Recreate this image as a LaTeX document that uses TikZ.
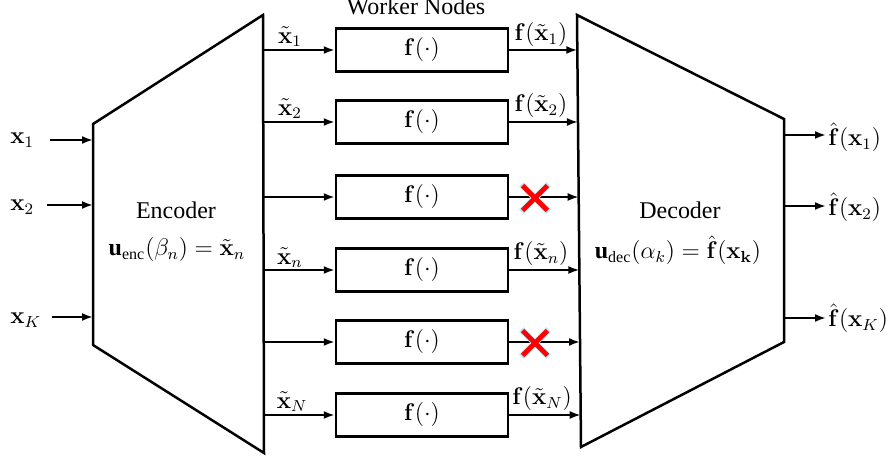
\documentclass[tikz,border=0pt]{standalone}
\usepackage{amsmath}
\usepackage[no-math]{fontspec}
\setmainfont{Liberation Serif}
\usetikzlibrary{arrows.meta,calc,shapes.misc}
\begin{document}
\begin{tikzpicture}[x=0.5pt,y=-0.5pt,
  font=\fontsize{12}{14}\selectfont,
  block/.style={draw,line width=1.25pt,line join=miter},
  worker/.style={draw,line width=1.25pt,minimum width=86pt,minimum height=21.5pt,inner sep=0pt},
  flow/.style={line width=1pt,-{Latex[length=5.5pt,width=4pt]}},
  lost/.style={cross out,draw=red,line width=2.4pt,minimum size=10pt,inner sep=0pt},
  halo/.style={cross out,draw=cyan!25,line width=3.2pt,minimum size=10.5pt,inner sep=0pt},
  lbl/.style={inner sep=1pt}]
\useasboundingbox (0,0) rectangle (891,459);

% encoder trapezoid
\coordinate (etl) at (93,124);
\coordinate (etr) at (263,15);
\coordinate (ebr) at (264,453);
\coordinate (ebl) at (93,345);
\draw[block] (etl) -- (etr) -- (ebr) -- (ebl) -- cycle;
\node (enc) at (176,210) {Encoder};
\node (encf) at (177,250) {$\text{\textbf{u}}_{\text{enc}}(\beta_n)=\tilde{\mathbf{x}}_n$};

% decoder trapezoid
\coordinate (dtl) at (577,15);
\coordinate (dtr) at (784,119);
\coordinate (dbr) at (784,342);
\coordinate (dbl) at (581,447);
\draw[block] (dtl) -- (dtr) -- (dbr) -- (dbl) -- cycle;
\node (dec) at (680,210) {Decoder};
\node (decf) at (678,250) {$\text{\textbf{u}}_{\text{dec}}(\alpha_k)=\hat{\mathbf{f}}(\mathbf{x}_{\mathbf{k}})$};

\node[anchor=base] (wn) at (416,15) {Worker Nodes};

% worker nodes and their links
\foreach \i/\y in {1/50,2/122,3/197,4/270,5/342,6/415} {
  \pgfmathsetmacro{\dx}{577+4*(\y-15)/432}
  \node[worker] (w\i) at (422,\y) {$\mathbf{f}(\cdot)$};
  \coordinate (e\i) at (263,\y);
  \coordinate (d\i) at (\dx,\y);
  \draw[flow] (e\i) -- (w\i);
  \draw[flow] (w\i) -- (d\i);
}

% link labels
\node[lbl] (t1) at (290,37) {$\tilde{\mathbf{x}}_1$};
\node[lbl] (t2) at (290,109) {$\tilde{\mathbf{x}}_2$};
\node[lbl] (tn) at (290,258) {$\tilde{\mathbf{x}}_n$};
\node[lbl] (tN) at (292,402) {$\tilde{\mathbf{x}}_N$};
\node[lbl] (f1) at (541,35) {$\mathbf{f}(\tilde{\mathbf{x}}_1)$};
\node[lbl] (f2) at (541,106) {$\mathbf{f}(\tilde{\mathbf{x}}_2)$};
\node[lbl] (fn) at (541,254) {$\mathbf{f}(\tilde{\mathbf{x}}_n)$};
\node[lbl] (fN) at (542,399) {$\mathbf{f}(\tilde{\mathbf{x}}_N)$};

% stragglers
\node[halo] at (535,198) {};
\node[lost] (c3) at (535,198) {};
\node[halo] at (535,343) {};
\node[lost] (c5) at (535,343) {};

% inputs
\node[anchor=west,lbl] (x1) at (8,140) {$\mathbf{x}_1$};
\node[anchor=west,lbl] (x2) at (8,207) {$\mathbf{x}_2$};
\node[anchor=west,lbl] (xK) at (8,320) {$\mathbf{x}_K$};
\coordinate (s1) at (50,140);
\coordinate (s2) at (47,205);
\coordinate (sK) at (52,317);
\coordinate (i1) at (93,140);
\coordinate (i2) at (93,205);
\coordinate (iK) at (93,317);
\draw[flow] (s1) -- (i1);
\draw[flow] (s2) -- (i2);
\draw[flow] (sK) -- (iK);

% outputs
\coordinate (o1) at (784,135);
\coordinate (o2) at (784,206);
\coordinate (oK) at (784,318);
\node[anchor=west,lbl] (y1) at (826,137) {$\hat{\mathbf{f}}(\mathbf{x}_1)$};
\node[anchor=west,lbl] (y2) at (826,207) {$\hat{\mathbf{f}}(\mathbf{x}_2)$};
\node[anchor=west,lbl] (yK) at (826,318) {$\hat{\mathbf{f}}(\mathbf{x}_K)$};
\draw[flow] (o1) -- (o1 -| y1.west);
\draw[flow] (o2) -- (o2 -| y2.west);
\draw[flow] (oK) -- (oK -| yK.west);
\end{tikzpicture}
\end{document}
